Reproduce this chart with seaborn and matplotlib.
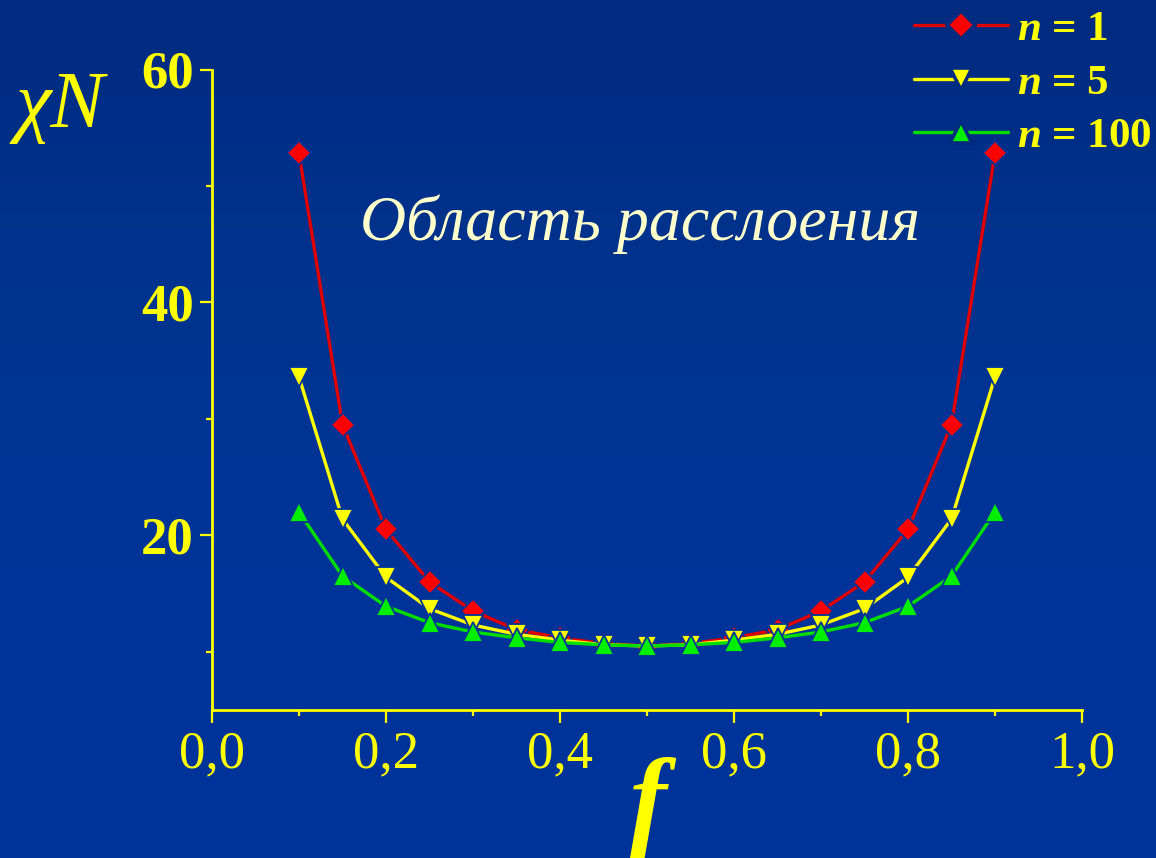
import numpy as np
import pandas as pd
import matplotlib
matplotlib.use("Agg")
import matplotlib.pyplot as plt
import seaborn as sns
from matplotlib.ticker import MultipleLocator, FixedLocator
from matplotlib.colors import LinearSegmentedColormap

# ---- data ----
f_vals = [0.10, 0.15, 0.20, 0.25, 0.30, 0.35, 0.40, 0.45, 0.50,
          0.55, 0.60, 0.65, 0.70, 0.75, 0.80, 0.85, 0.90]
chiN_n1 = [52.8, 29.5, 20.5, 16.0, 13.5, 11.9, 11.2, 10.7, 10.5,
           10.7, 11.2, 11.9, 13.5, 16.0, 20.5, 29.5, 52.8]
chiN_n5 = [33.6, 21.4, 16.4, 13.7, 12.3, 11.5, 11.0, 10.6, 10.5,
           10.6, 11.0, 11.5, 12.3, 13.7, 16.4, 21.4, 33.6]
chiN_n100 = [22.0, 16.5, 13.9, 12.5, 11.7, 11.2, 10.8, 10.6, 10.5,
             10.6, 10.8, 11.2, 11.7, 12.5, 13.9, 16.5, 22.0]
series_labels = ["$n$ = 1", "$n$ = 5", "$n$ = 100"]
x_ticks = [0.0, 0.2, 0.4, 0.6, 0.8, 1.0]
x_ticklabels = ["0,0", "0,2", "0,4", "0,6", "0,8", "1,0"]
y_ticks = [20, 40, 60]
y_ticklabels = ["20", "40", "60"]
region_text = "Область расслоения"

BG = "#003399"
BG_TOP = "#002b80"
YEL = "#ffff00"

sns.set_theme(style="white")
plt.rcParams["font.family"] = ["Liberation Serif", "DejaVu Serif"]
plt.rcParams["mathtext.fontset"] = "custom"
plt.rcParams["mathtext.it"] = "Liberation Serif:italic:bold"
plt.rcParams["mathtext.rm"] = "Liberation Serif:bold"

fig = plt.figure(figsize=(11.56, 8.58), dpi=100)
fig.patch.set_facecolor(BG)

# background gradient
bg_ax = fig.add_axes([0, 0, 1, 1], zorder=-10)
grad = np.linspace(0, 1, 256).reshape(-1, 1)
cmap = LinearSegmentedColormap.from_list("bg", [BG_TOP, "#00338f", BG, BG])
bg_ax.imshow(grad, aspect="auto", cmap=cmap, extent=[0, 1, 0, 1])
bg_ax.axis("off")

ax = fig.add_axes([212 / 1156, 1 - 710 / 858, 870 / 1156, 640.5 / 858])
ax.set_facecolor("none")

df = pd.DataFrame({"f": f_vals * 3,
                   "chiN": chiN_n1 + chiN_n5 + chiN_n100,
                   "series": [series_labels[0]] * 17 + [series_labels[1]] * 17 + [series_labels[2]] * 17})

styles = [
    dict(color="#e00000", mfc="#ff0000", marker="D", ms=12),
    dict(color="#ffff00", mfc="#ffff00", marker="v", ms=14),
    dict(color="#00dd00", mfc="#00ee00", marker="^", ms=14),
]
for lab, st in zip(series_labels, styles):
    sub = df[df["series"] == lab]
    sns.lineplot(data=sub, x="f", y="chiN", ax=ax, color=st["color"],
                 marker=st["marker"], markersize=st["ms"],
                 markerfacecolor=st["mfc"], markeredgecolor=BG,
                 markeredgewidth=1.3, linewidth=2.4, label=lab, legend=False)

ax.set_xlim(0, 1.0)
ax.set_ylim(5, 60)
ax.set_xlabel("")
ax.set_ylabel("")

for s in ["top", "right"]:
    ax.spines[s].set_visible(False)
for s in ["left", "bottom"]:
    ax.spines[s].set_color(YEL)
    ax.spines[s].set_linewidth(2.0)

ax.xaxis.set_major_locator(FixedLocator(x_ticks))
ax.set_xticklabels(x_ticklabels)
ax.xaxis.set_minor_locator(MultipleLocator(0.1))
ax.yaxis.set_major_locator(FixedLocator(y_ticks))
ax.set_yticklabels(y_ticklabels)
ax.yaxis.set_minor_locator(FixedLocator([10, 30, 50]))

ax.tick_params(axis="both", which="major", direction="out", color=YEL,
               width=1.6, length=9, labelcolor=YEL)
ax.tick_params(axis="both", which="minor", direction="out", color=YEL,
               width=1.6, length=4.5)
ax.tick_params(axis="x", which="major", labelsize=38, pad=6)
ax.tick_params(axis="y", which="major", labelsize=38, pad=4)
ax.tick_params(left=True, bottom=True, which="both")
for t in ax.get_yticklabels():
    t.set_fontweight("bold")

# axis labels
fig.text(15 / 1156, 1 - 127 / 858, "χN", color=YEL, fontsize=58,
         fontstyle="italic", ha="left", va="baseline")
fig.text(648 / 1156, 1 - 835 / 858, "f", color=YEL, fontsize=80,
         fontstyle="italic", fontweight="bold", ha="center", va="baseline")

# region text
fig.text(360 / 1156, 1 - 240 / 858, region_text, color="#ffffcc",
         fontsize=46, fontstyle="italic", ha="left", va="baseline")

# legend
handles, labels = ax.get_legend_handles_labels()
leg = fig.legend(handles, labels, loc="upper right", bbox_to_anchor=(1.0, 1 - 6 / 858),
                 frameon=False, prop={"family": "Liberation Serif", "weight": "bold", "size": 31},
                 labelcolor=YEL, handlelength=2.2, handletextpad=0.2,
                 labelspacing=0.33, borderpad=0.1, borderaxespad=0.0)
for h, st in zip(leg.legend_handles, styles):
    h.set_markeredgewidth(2.6)
    h.set_markeredgecolor(BG_TOP)
    h.set_markersize(st["ms"] + 2)

fig.savefig("out.png", dpi=100, facecolor=fig.get_facecolor())
